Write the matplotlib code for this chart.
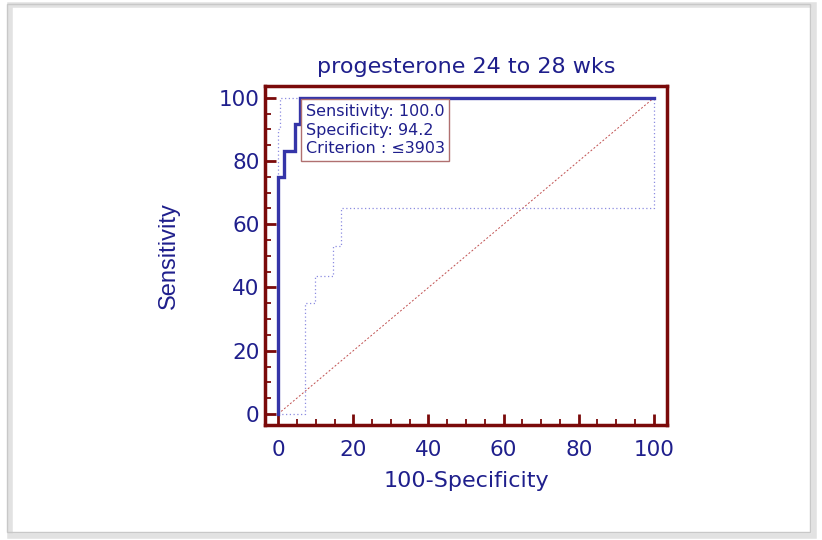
import matplotlib
matplotlib.use("Agg")
import matplotlib.pyplot as plt
from matplotlib.patches import Rectangle
from matplotlib.ticker import MultipleLocator

# ROC curve (100-Specificity, Sensitivity)
roc_x = [0, 0, 1.45, 1.45, 4.35, 4.35, 5.8, 5.8, 100]
roc_y = [0, 75, 75, 83.3, 83.3, 91.7, 91.7, 100, 100]

# confidence bounds
upper_x = [0, 0, 0.4, 0.4, 6, 100]
upper_y = [0, 90, 90, 100, 100, 100]
lower_x = [0, 7.2, 7.2, 9.8, 9.8, 14.7, 14.7, 16.6, 16.6, 100, 100]
lower_y = [0, 0, 35.2, 35.2, 43.7, 43.7, 53.0, 53.0, 65.1, 65.1, 100]

diag = [0, 100]

title = "progesterone 24 to 28 wks"
box_text = "Sensitivity: 100.0\nSpecificity: 94.2\nCriterion : \u22643903"

navy = "#1f1f8c"
maroon = "#7a0a0a"

plt.rcParams['font.family'] = ['DejaVu Sans']

fig = plt.figure(figsize=(8.22, 5.4), dpi=100)

# outer frame with a faint shadow
fig.patches.append(Rectangle((0.012, 0.008), 0.978, 0.982, transform=fig.transFigure,
                             fill=False, edgecolor="#e2e2e2", linewidth=4, zorder=0))
fig.patches.append(Rectangle((0.008, 0.014), 0.978, 0.978, transform=fig.transFigure,
                             fill=False, edgecolor="#c8c8c8", linewidth=1, zorder=1))

ax = fig.add_axes([0.3224, 0.213, 0.489, 0.628])

ax.plot(diag, diag, color="#c05050", linestyle=(0, (2, 2)), linewidth=0.7)
ax.plot(lower_x, lower_y, color="#8c8ce0", linestyle=(0, (1, 2)), linewidth=0.9)
ax.plot(upper_x, upper_y, color="#8c8ce0", linestyle=(0, (1, 2)), linewidth=0.9)
ax.plot(roc_x, roc_y, color="#3535a8", linewidth=2.4, solid_joinstyle="miter")

ax.set_xlim(-3.5, 103.5)
ax.set_ylim(-3.5, 103.8)

for s in ax.spines.values():
    s.set_color(maroon)
    s.set_linewidth(2.5)

ax.xaxis.set_major_locator(MultipleLocator(20))
ax.xaxis.set_minor_locator(MultipleLocator(5))
ax.yaxis.set_major_locator(MultipleLocator(20))
ax.yaxis.set_minor_locator(MultipleLocator(5))
ax.tick_params(which="major", direction="in", length=8, width=2, color=maroon,
               labelcolor=navy, labelsize=15.5, top=False, right=False)
ax.tick_params(which="minor", direction="in", length=4, width=1.3, color=maroon,
               top=False, right=False)
ax.tick_params(axis="x", which="major", pad=11)
ax.tick_params(axis="y", which="major", pad=4)

ax.set_title(title, color=navy, fontsize=16, pad=9)
ax.set_xlabel("100-Specificity", color=navy, fontsize=16, labelpad=8)
ax.set_ylabel("Sensitivity", color=navy, fontsize=17, labelpad=28,
              family=['Liberation Sans Narrow', 'Liberation Sans'])

ax.text(7.3, 98.0, box_text, color=navy, fontsize=11.5, va="top", ha="left",
        linespacing=1.3,
        bbox=dict(boxstyle="square,pad=0.3", facecolor="white", edgecolor="#b07070", linewidth=1))

fig.savefig("out.png", dpi=100)
